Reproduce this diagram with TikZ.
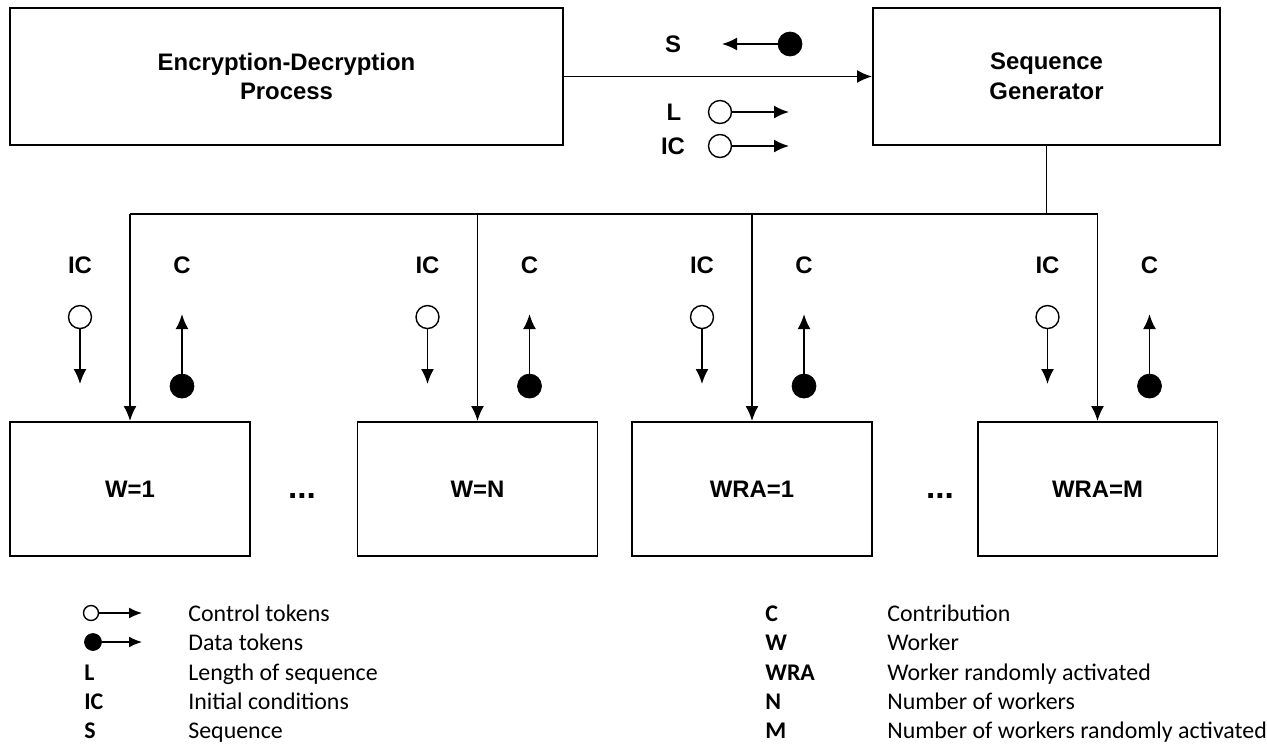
\documentclass[tikz,border=0pt]{standalone}
\usepackage{fontspec}
\setmainfont{Liberation Sans}
\newfontfamily\legendfont{Carlito}
\usetikzlibrary{arrows.meta,positioning}

\begin{document}
\begin{tikzpicture}[x=0.02cm, y=-0.02cm, font=\fontsize{13.6}{17}\selectfont\bfseries]
    % Define styles
    \tikzstyle{block} = [rectangle, draw, line width=1.1pt, align=center, inner sep=0pt]
    \tikzstyle{process} = [block, minimum width=11.06cm, minimum height=2.74cm]
    \tikzstyle{generator} = [block, minimum width=6.94cm, minimum height=2.74cm]
    \tikzstyle{worker} = [block, minimum width=4.8cm, minimum height=2.68cm]
    \tikzstyle{line} = [line width=1.1pt]
    \tikzstyle{arrow} = [line width=1.1pt, -{Latex[length=0.3cm,width=0.26cm]}]
    \tikzstyle{legarrow} = [line width=0.9pt, -{Latex[length=0.26cm,width=0.22cm]}]
    \tikzstyle{ctrltok} = [circle, draw, fill=white, line width=0.8pt, minimum size=0.46cm, inner sep=0pt]
    \tikzstyle{datatok} = [circle, draw, fill=black, minimum size=0.48cm, inner sep=0pt]
    \tikzstyle{legtext} = [font=\fontsize{13.6}{17}\selectfont\legendfont, anchor=base west, inner sep=0pt]
    \tikzstyle{legkey} = [font=\fontsize{13.6}{17}\selectfont\legendfont\bfseries, anchor=base west, inner sep=0pt]

    \useasboundingbox (0,0) rectangle (1267,744);

    % Top row
    \node [process] (edp) at (286.5,76.5) {Encryption-Decryption\\Process};
    \node [generator] (sg) at (1046.5,76.5) {Sequence\\Generator};
    \draw [arrow] (edp) -- (sg);

    % Tokens between the two top boxes
    \node (slab) at (673,44) {S};
    \node [datatok] (stok) at (790,44) {};
    \coordinate (send) at (722,44);
    \draw [arrow] (stok) -- (send);
    \node (llab) at (674,112) {L};
    \node [ctrltok] (ltok) at (720,112) {};
    \coordinate (lend) at (789,112);
    \draw [arrow] (ltok) -- (lend);
    \node (iclab) at (673,146) {IC};
    \node [ctrltok] (ictok) at (720,146) {};
    \coordinate (icend) at (789,146);
    \draw [arrow] (ictok) -- (icend);

    % Workers
    \node [worker] (w1) at (130,489) {W=1};
    \node [worker] (wn) at (477.5,489) {W=N};
    \node [worker] (wra1) at (752,489) {WRA=1};
    \node [worker] (wram) at (1097.5,489) {WRA=M};
    \node [anchor=base] (dots1) at (302,498) {\fontsize{19}{19}\selectfont ...};
    \node [anchor=base] (dots2) at (940,498) {\fontsize{19}{19}\selectfont ...};

    % Bus from the generator
    \path (sg.south) ++(0,68) coordinate (bus);
    \draw [line] (sg.south) -- (bus);
    \draw [line] (w1.north |- bus) -- (wram.north |- bus);

    \foreach \w in {w1,wn,wra1,wram} {
        \draw [arrow] (\w.north |- bus) -- (\w.north);
        \path (\w.north) ++(-50,-156) node (\w-icl) {IC} ++(0,52) node [ctrltok] (\w-ict) {} ++(0,67) coordinate (\w-ice);
        \path (\w.north) ++(52,-156) node (\w-cl) {C} ++(0,121) node [datatok] (\w-cd) {} ++(0,-72) coordinate (\w-ce);
        \draw [arrow] (\w-ict) -- (\w-ice);
        \draw [arrow] (\w-cd) -- (\w-ce);
    }

    % Legend, left
    \node [ctrltok, minimum size=0.3cm] (ctrlkey) at (91,613) {};
    \coordinate (ctrlend) at (142,613);
    \draw [legarrow] (ctrlkey) -- (ctrlend);
    \node [datatok, minimum size=0.34cm] (datakey) at (93,642) {};
    \coordinate (dataend) at (142,642);
    \draw [legarrow] (datakey) -- (dataend);
    \node [legtext] (ctrltxt) at (188,621) {Control tokens};
    \node [legtext] (datatxt) at (188,650) {Data tokens};
    \node [legkey] (lkey) at (84,680) {L};
    \node [legtext] (ltxt) at (188,680) {Length of sequence};
    \node [legkey] (ickey) at (84,709) {IC};
    \node [legtext] (ictxt) at (188,709) {Initial conditions};
    \node [legkey] (skey) at (84,738) {S};
    \node [legtext] (stxt) at (188,738) {Sequence};

    % Legend, right
    \node [legkey] (ckey) at (765,621) {C};
    \node [legtext] (ctxt) at (887,621) {Contribution};
    \node [legkey] (wkey) at (765,650) {W};
    \node [legtext] (wtxt) at (887,650) {Worker};
    \node [legkey] (wrakey) at (765,680) {WRA};
    \node [legtext] (wratxt) at (887,680) {Worker randomly activated};
    \node [legkey] (nkey) at (765,709) {N};
    \node [legtext] (ntxt) at (887,709) {Number of workers};
    \node [legkey] (mkey) at (765,738) {M};
    \node [legtext] (mtxt) at (887,738) {Number of workers randomly activated};
\end{tikzpicture}
\end{document}
